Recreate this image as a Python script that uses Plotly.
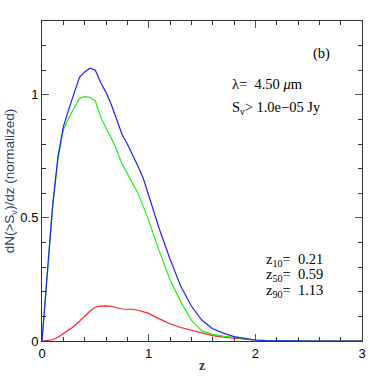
"""Normalized redshift distribution dN(>S)/dz at 4.5 micron."""

import plotly.graph_objects as go

# redshift grid and curves
z = [0, 0.05, 0.1, 0.15, 0.2, 0.25, 0.3, 0.35, 0.4, 0.45, 0.5, 0.55, 0.6,
     0.65, 0.7, 0.75, 0.8, 0.85, 0.9, 0.95, 1.0, 1.1, 1.2, 1.3, 1.4, 1.5,
     1.6, 1.7, 1.8, 1.9, 2.0, 2.1, 2.2, 2.5, 3.0]
total = [0, 0.29, 0.55, 0.75, 0.87, 0.94, 1.01, 1.07, 1.093, 1.108, 1.10,
         1.05, 1.01, 0.96, 0.90, 0.84, 0.80, 0.758, 0.71, 0.66, 0.59, 0.455,
         0.333, 0.223, 0.142, 0.084, 0.05, 0.032, 0.018, 0.01, 0.004, 0.002,
         0.001, 0, 0]
green = [0, 0.29, 0.55, 0.74, 0.857, 0.905, 0.945, 0.985, 0.993, 0.99, 0.975,
         0.91, 0.865, 0.825, 0.775, 0.72, 0.68, 0.64, 0.60, 0.546, 0.49, 0.365,
         0.25, 0.16, 0.085, 0.041, 0.027, 0.02, 0.014, 0.008, 0.004, 0.002,
         0.001, 0, 0]
red = [0, 0.002, 0.005, 0.015, 0.03, 0.045, 0.06, 0.08, 0.10, 0.122, 0.137,
       0.142, 0.143, 0.141, 0.135, 0.13, 0.129, 0.129, 0.125, 0.12, 0.112,
       0.09, 0.07, 0.055, 0.043, 0.031, 0.022, 0.016, 0.011, 0.006, 0.003,
       0.001, 0, 0, 0]

fig = go.Figure()
for ys, col in [(red, "#ff2020"), (green, "#20ee20"), (total, "#2020ff")]:
    fig.add_trace(go.Scatter(x=z, y=ys, mode="lines",
                             line=dict(color=col, width=1.2), showlegend=False))

serif = "Liberation Serif"
sp = "\u2002"  # en space, keeps the wide gaps of the original
notes = [
    (2.52, 1.17, "(b)"),
    (1.76, 1.045, f"λ={sp}4.50 <i>μ</i>m"),
    (1.76, 0.947, "S<sub>ν</sub>> 1.0e−05 Jy"),
    (2.08, 0.329, f"z<sub>10</sub>={sp}0.21"),
    (2.08, 0.268, f"z<sub>50</sub>={sp}0.59"),
    (2.08, 0.203, f"z<sub>90</sub>={sp}1.13"),
]
for x, y, t in notes:
    fig.add_annotation(x=x, y=y, text=t, showarrow=False, xanchor="left",
                       font=dict(family=serif, size=14.5, color="black"))

axis = dict(showgrid=False, zeroline=False, showline=True, linecolor="#333",
            linewidth=1, mirror="allticks", ticks="inside", ticklen=7,
            tickcolor="#555", automargin=False,
            tickfont=dict(family="Liberation Sans", size=13, color="black"))
fig.update_xaxes(range=[0, 3], tickvals=[0, 1, 2, 3],
                 minor=dict(dtick=0.2, ticks="inside", ticklen=4,
                            tickcolor="#333"),
                 title=dict(text="<b>z</b>", standoff=0,
                            font=dict(family=serif, size=14)), **axis)
fig.update_yaxes(range=[0, 1.3], tickvals=[0, 0.5, 1],
                 ticktext=["0", "0.5", "1"],
                 minor=dict(dtick=0.1, ticks="inside", ticklen=4,
                            tickcolor="#333"),
                 title=dict(text="dN(>S<sub>ν</sub>)/dz (normalized)",
                            standoff=2,
                            font=dict(family="Liberation Sans", size=13.5)),
                 **axis)
fig.update_layout(width=382, height=382, plot_bgcolor="white",
                  paper_bgcolor="white",
                  margin=dict(l=42, r=20, t=21, b=41))
fig.write_html("out.html", config={"displayModeBar": False},
               post_script="document.body.style.margin='0';")
